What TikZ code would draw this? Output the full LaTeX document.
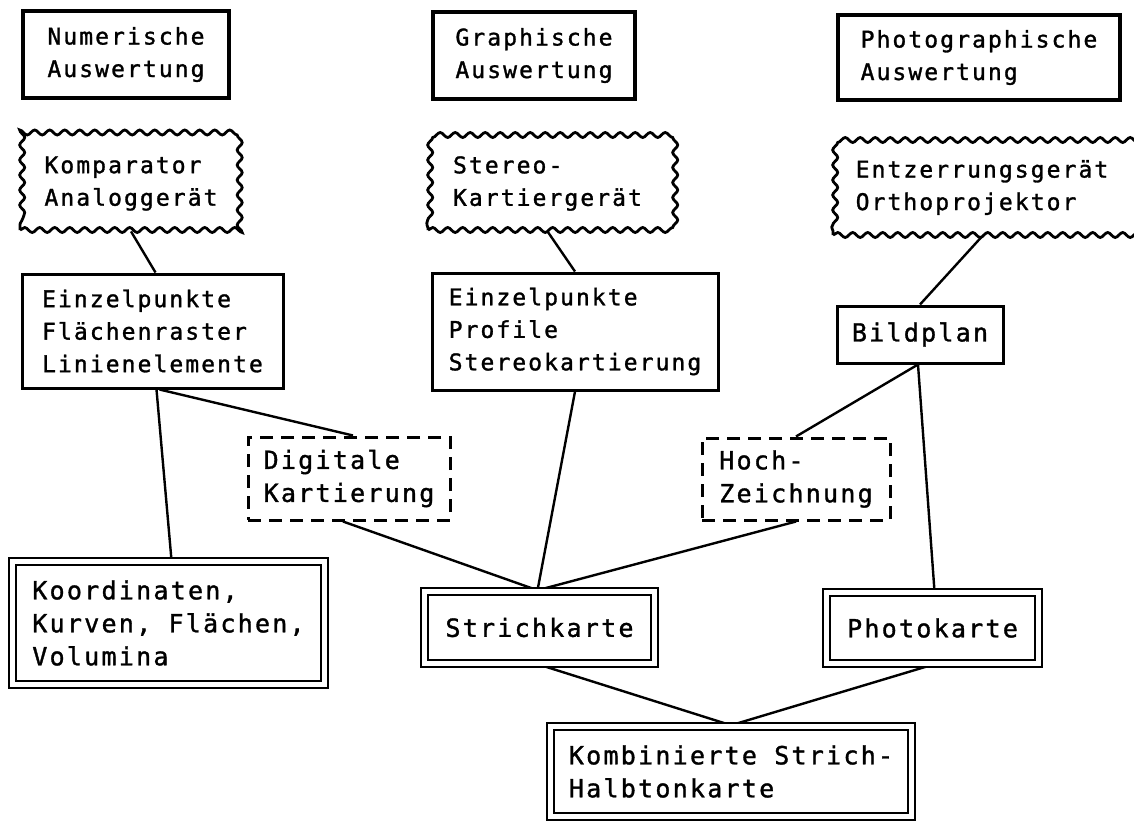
\documentclass[tikz,border=0pt]{standalone}
\usepackage{fontspec}
\newfontfamily\twfont[LetterSpace=9,FakeBold=1.3]{DejaVu Sans Mono}
\usetikzlibrary{decorations.pathmorphing,backgrounds}
\begin{document}
\begin{tikzpicture}[x=1pt,y=-1pt,
  every node/.style={align=left, inner sep=0pt},
  txa/.style={font=\twfont\fontsize{23}{32.5}\selectfont},
  txb/.style={font=\twfont\fontsize{25}{33}\selectfont},
  plainbox/.style={draw, line width=3pt, fill=white, txa},
  thickbox/.style={plainbox, line width=3.6pt},
  wavybox/.style={draw, line width=2.8pt, fill=white, decorate,
    decoration={snake, amplitude=2.5pt, segment length=15pt}, txa},
  dashbox/.style={draw, line width=3pt, fill=white, dash pattern=on 13pt off 8pt, txb},
  dblbox/.style={draw, line width=2.5pt, double, double distance=4.5pt, fill=white, txb},
  link/.style={line width=2.4pt}
]
\useasboundingbox (0,0) rectangle (1134,822);

\node[thickbox, minimum width=206pt, minimum height=87pt] (num) at (126,54.5) {Numerische\\Auswertung};
\node[thickbox, minimum width=202pt, minimum height=87pt] (gra) at (534,55.5) {Graphische\\Auswertung};
\node[thickbox, minimum width=282pt, minimum height=85pt] (pho) at (979,57.5) {Photographische\\Auswertung};

\node[wavybox, minimum width=222pt, minimum height=93pt] (kom) at (131,183.5) {Komparator\\Analoggerät};
\node[wavybox, minimum width=239pt, minimum height=93pt] (ste) at (547.5,183.5) {Stereo-\\Kartiergerät};
\node[wavybox, minimum width=298pt, minimum height=95pt] (ent) at (982,187.5) {Entzerrungsgerät\\Orthoprojektor};

\node[plainbox, minimum width=261pt, minimum height=114pt] (ein1) at (152.5,331) {Einzelpunkte\\Flächenraster\\Linienelemente};
\node[plainbox, minimum width=286pt, minimum height=117pt] (ein2) at (575,331.5) {Einzelpunkte\\Profile\\Stereokartierung};
\node[plainbox, txb, minimum width=166pt, minimum height=57pt] (bil) at (920,334.5) {Bildplan};

\node[dashbox, minimum width=202pt, minimum height=83pt] (dig) at (349,478.5) {Digitale\\Kartierung};
\node[dashbox, minimum width=188pt, minimum height=82pt] (hoc) at (796,479) {Hoch-\\Zeichnung};

\node[dblbox, minimum width=312pt, minimum height=123pt] (koo) at (168.5,623) {Koordinaten,\\Kurven, Flächen,\\Volumina};
\node[dblbox, minimum width=230pt, minimum height=72pt] (str) at (539.5,627.5) {Strichkarte};
\node[dblbox, minimum width=212pt, minimum height=71pt] (phk) at (932.5,628) {Photokarte};
\node[dblbox, minimum width=361pt, minimum height=90pt] (kmb) at (731,771.5) {Kombinierte Strich-\\Halbtonkarte};

\begin{pgfonlayer}{background}
\draw[link] (kom.south) -- ([xshift=3pt]ein1.north);
\draw[link] (ste.south) -- (ein2.north);
\draw[link] (ent.south) -- (bil.north);
\draw[link] ([xshift=7pt]ein1.south) -- ([xshift=4pt]dig.north);
\draw[link] ([xshift=4pt]ein1.south) -- ([xshift=3pt]koo.north);
\draw[link] (ein2.south) -- ([xshift=-2pt]str.north);
\draw[link] ([xshift=-6pt]dig.south) -- ([xshift=-2pt]str.north);
\draw[link] (hoc.south) -- ([xshift=-2pt]str.north);
\draw[link] ([xshift=-2pt]bil.south) -- (hoc.north);
\draw[link] ([xshift=-2pt]bil.south) -- ([xshift=2pt]phk.north);
\draw[link] (str.south) -- (kmb.north);
\draw[link] (phk.south) -- (kmb.north);
\end{pgfonlayer}
\end{tikzpicture}
\end{document}
